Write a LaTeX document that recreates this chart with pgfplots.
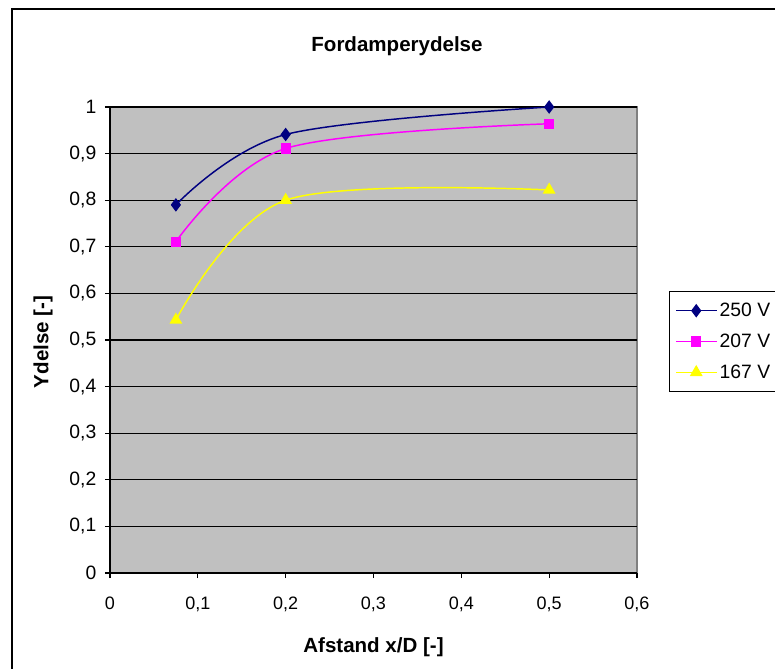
\documentclass[border=0pt]{standalone}
\usepackage{pgfplots}
\pgfplotsset{compat=1.18}
\usepackage{fontspec}
\setmainfont{Liberation Sans}

\definecolor{plotgray}{HTML}{C0C0C0}
\definecolor{framegray}{HTML}{808080}
\definecolor{navyline}{HTML}{000080}
\definecolor{pinkline}{HTML}{FF00FF}
\definecolor{yellowline}{HTML}{FFFF00}

\newcommand{\xticksize}{\fontsize{13.5}{16}\selectfont}
\newcommand{\yticksize}{\fontsize{14.5}{17}\selectfont}
\newcommand{\labelsize}{\fontsize{15.4}{18}\selectfont\bfseries}

\begin{document}
\begin{tikzpicture}
\useasboundingbox (0pt,0pt) rectangle (581.25pt,501pt);
\clip (0pt,0pt) rectangle (581.25pt,501pt);

% chart area frame
\draw[line width=1.1pt] (9pt,494.25pt) rectangle (600pt,-15pt);

% chart title
\node[font=\labelsize] at (297.75pt,466.5pt) {Fordamperydelse};

\begin{axis}[
  at={(82.5pt,71.25pt)}, anchor=south west,
  scale only axis,
  width=395.25pt, height=349.5pt,
  xmin=0, xmax=0.6, ymin=0, ymax=1,
  xtick={0,0.1,...,0.6},
  ytick={0,0.1,...,1},
  axis lines=left,
  axis line style={-, black, line width=0.9pt},
  axis background/.style={fill=plotgray, draw=framegray, line width=1.2pt},
  ymajorgrids,
  major grid style={black, line width=1pt},
  tick align=outside,
  major tick length=3.75pt,
  tick style={black, line width=0.8pt},
  /pgf/number format/.cd, use comma, assume math mode=true, fixed, precision=1,
  /pgfplots/.cd,
  xticklabel style={font=\xticksize, yshift=-11pt},
  yticklabel style={font=\yticksize, xshift=-3pt},
  xlabel={Afstand x/D [-]},
  ylabel={Ydelse [-]},
  xlabel style={font=\labelsize, at={(axis description cs:0.5,-0.159)}, anchor=center},
  ylabel style={font=\labelsize, at={(axis description cs:-0.127,0.496)}, anchor=center},
  legend style={
    at={(1.0607,0.605)}, anchor=north west,
    draw=black, line width=0.8pt, fill=white,
    font=\yticksize,
    inner xsep=4.5pt, inner ysep=6.5pt,
    row sep=7.5pt,
    legend cell align=left,
  },
  legend image code/.code={
    \draw[#1, mark repeat=2, mark phase=2] plot coordinates {(0pt,0pt) (15pt,0pt) (30pt,0pt)};
  },
  every axis plot/.append style={line width=1.1pt, smooth, tension=0.55},
]
\addplot[navyline, mark=diamond*, mark size=4.2pt, mark options={solid, fill=navyline}]
  coordinates {(0.075,0.790) (0.2,0.941) (0.5,1.000)};
\addlegendentry{250 V}
\addplot[pinkline, mark=square*, mark size=3.3pt, mark options={solid, fill=pinkline}]
  coordinates {(0.075,0.711) (0.2,0.911) (0.5,0.964)};
\addlegendentry{207 V}
\addplot[yellowline, mark=triangle*, mark size=4.5pt, mark options={solid, fill=yellowline}]
  coordinates {(0.075,0.543) (0.2,0.800) (0.5,0.822)};
\addlegendentry{167 V}
\end{axis}
\end{tikzpicture}
\end{document}
